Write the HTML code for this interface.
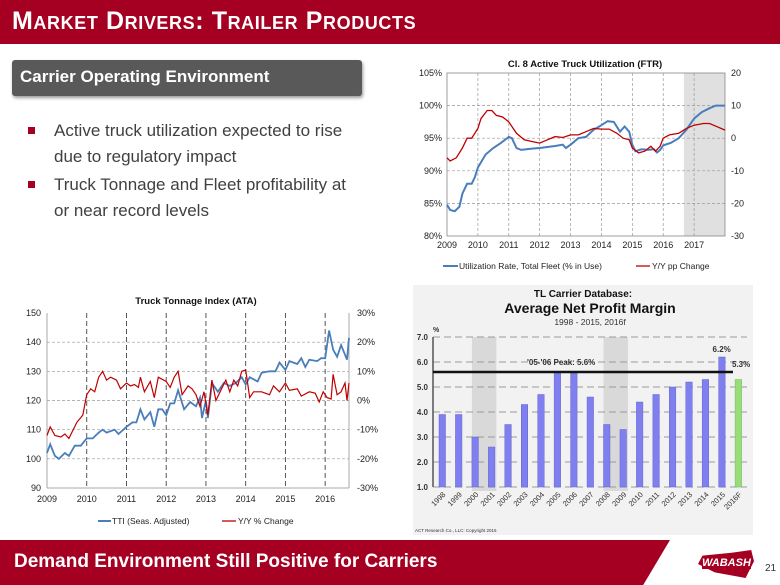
<!DOCTYPE html>
<html><head><meta charset="utf-8"><style>
body{margin:0;width:780px;height:585px;overflow:hidden;background:#fff;font-family:"Liberation Sans",sans-serif;position:relative}
.abs{position:absolute}
#hdr{left:0;top:0;width:780px;height:44px;background:#a50021}
#title{left:12px;top:7px;color:#fff;font-weight:bold;font-size:25px;font-variant:small-caps;letter-spacing:0.6px}
#box{left:12px;top:60px;width:350px;height:36px;background:#595959;border-radius:3px;box-shadow:1px 2px 3px #999}
#box span{position:absolute;left:8px;top:7px;color:#fff;font-weight:bold;font-size:17px}
.bul{left:28px;color:#404040;font-size:17px;line-height:26px}
.bul i{position:absolute;left:0;top:9px;width:7px;height:7px;background:#a50021}
.bul div{margin-left:26px}
#foot{left:0;top:540px;width:670px;height:45px;background:#a50021;clip-path:polygon(0 0,100% 0,96% 100%,0 100%)}
#foot span{position:absolute;left:14px;top:11px;color:#fff;font-weight:bold;font-size:19px}
svg text{font-family:"Liberation Sans",sans-serif}
</style></head><body>
<div id="hdr" class="abs"></div>
<div id="title" class="abs">Market Drivers: Trailer Products</div>
<div id="box" class="abs"><span>Carrier Operating Environment</span></div>
<div class="abs bul" style="top:118px"><i></i><div>Active truck utilization expected to rise<br>due to regulatory impact</div></div>
<div class="abs bul" style="top:172px"><i></i><div>Truck Tonnage and Fleet profitability at<br>or near record levels</div></div>
<div id="foot" class="abs"><span>Demand Environment Still Positive for Carriers</span></div>
<div class="abs" style="left:698px;top:550px;width:56px;height:28px;background:#a50021;clip-path:polygon(8% 20%,60% 10%,95% 0,100% 40%,85% 100%,30% 80%,0 50%)"></div>
<div class="abs" style="left:702px;top:557px;color:#fff;font-weight:bold;font-style:italic;font-size:11px;background:#a50021">WABASH</div>
<div class="abs" style="left:765px;top:563px;font-size:10px;color:#333">21</div>

<svg class="abs" style="left:0;top:0" width="780" height="585" id="sv">
<rect x="413" y="285" width="340" height="250" fill="#f2f2f2"/>
</svg>
<script>
// ---- Chart 1 data
const c1Years=[2009,2010,2011,2012,2013,2014,2015,2016,2017];
const c1LeftTicks=[80,85,90,95,100,105];
const c1RightTicks=[-30,-20,-10,0,10,20];
const utilT=[2009,2009.1,2009.25,2009.4,2009.5,2009.65,2009.8,2009.9,2010,2010.25,2010.5,2010.75,2011,2011.1,2011.25,2011.4,2011.75,2012,2012.5,2012.75,2012.85,2013,2013.25,2013.5,2013.75,2014,2014.2,2014.4,2014.6,2014.75,2014.9,2015,2015.1,2015.3,2015.5,2015.7,2015.8,2015.9,2016,2016.25,2016.5,2016.75,2017,2017.25,2017.5,2017.7,2018];
const utilV=[84.8,84,83.8,84.5,86.5,88,88,89,90.5,92.5,93.5,94.3,95.2,95,93.5,93.2,93.4,93.5,93.8,94,93.5,94,95,95.2,96.3,97,97.6,97.5,96,96.8,96,94,93,93.3,93.2,93.3,92.8,93.2,93.9,94.3,95,96.3,98,99,99.6,100,100];
const yoyT=[2009,2009.1,2009.3,2009.5,2009.65,2009.8,2010,2010.1,2010.3,2010.45,2010.6,2010.8,2011,2011.25,2011.5,2011.75,2012,2012.25,2012.5,2012.75,2013,2013.25,2013.5,2013.75,2014,2014.25,2014.5,2014.7,2014.9,2015,2015.2,2015.4,2015.6,2015.75,2015.9,2016,2016.2,2016.5,2016.75,2017,2017.3,2017.5,2017.75,2018];
const yoyV=[-6,-7,-6,-3,0,0,3,6,8.5,8.5,7,6.5,5,1.5,-0.5,-1,-1.5,-0.5,0.5,0.2,1,1,2,3,2.8,2.8,1.5,0,-0.5,-3,-4.5,-4,-2.5,-4,-2.5,0,1,1.5,3,4,4.5,4.5,3.5,2.5];
// ---- Chart 2 data
const c2Years=[2009,2010,2011,2012,2013,2014,2015,2016];
const c2LeftTicks=[90,100,110,120,130,140,150];
const c2RightTicks=[-30,-20,-10,0,10,20,30];
const ttiT=[2009,2009.08,2009.2,2009.3,2009.45,2009.55,2009.7,2009.85,2010,2010.15,2010.3,2010.4,2010.5,2010.7,2010.8,2011,2011.15,2011.25,2011.35,2011.45,2011.6,2011.7,2011.8,2011.9,2012,2012.1,2012.2,2012.3,2012.45,2012.6,2012.75,2012.85,2012.9,2013,2013.05,2013.15,2013.3,2013.45,2013.6,2013.75,2013.9,2014,2014.1,2014.3,2014.4,2014.6,2014.75,2014.85,2015,2015.1,2015.3,2015.4,2015.5,2015.6,2015.8,2015.9,2016,2016.1,2016.2,2016.3,2016.4,2016.55,2016.6];
const ttiV=[102,105,101,100,102,101,104.5,104.5,107,107,109,110,109,110,108.5,111,112.5,112.5,117,113.5,116,111,117,117,115,119,119,123.5,117,119.5,118,121,114,120,114,126,123,126,125,126,128,125.5,128,126.5,129.5,130,130,133,130.5,133.5,132.5,134.5,131.5,134,133.5,134.5,134.5,144,137.5,135,139,134,141.5];
const pctT=[2009,2009.08,2009.2,2009.35,2009.45,2009.55,2009.75,2009.9,2010,2010.1,2010.2,2010.3,2010.4,2010.5,2010.6,2010.75,2010.85,2011,2011.1,2011.2,2011.3,2011.35,2011.45,2011.6,2011.7,2011.8,2012,2012.1,2012.2,2012.3,2012.4,2012.55,2012.65,2012.75,2012.85,2012.95,2013.05,2013.15,2013.25,2013.5,2013.6,2013.7,2013.8,2013.9,2014,2014.1,2014.2,2014.4,2014.6,2014.7,2014.85,2015,2015.1,2015.3,2015.4,2015.6,2015.75,2015.85,2015.95,2016.05,2016.15,2016.2,2016.3,2016.4,2016.5,2016.55,2016.6];
const pctV=[-12,-9,-12,-12.5,-11.5,-13,-7.5,-5,2,4,3,8,10,7,8,7,4,6,5,5.5,4.5,8,3,6.5,1,8,6.5,4.5,8,10,2,5,4,2,-2,3,-5,7,0,7,3,7,5,10,10.5,1,3,3,2,5,3,6,3.5,4,1.5,3,2.5,-0.5,3,1,0.5,9,2,3,6,0,6];
// ---- Chart 3 data
const c3Cats=["1998","1999","2000","2001","2002","2003","2004","2005","2006","2007","2008","2009","2010","2011","2012","2013","2014","2015","2016F"];
const c3Vals=[3.9,3.9,3.0,2.6,3.5,4.3,4.7,5.6,5.6,4.6,3.5,3.3,4.4,4.7,5.0,5.2,5.3,6.2,5.3];
const c3Ticks=[1,2,3,4,5,6,7];
const c3Peak=[5.6];

const sv=document.getElementById('sv');const NS='http://www.w3.org/2000/svg';
function mk(t,a,txt){const e=document.createElementNS(NS,t);for(const k in a)e.setAttribute(k,a[k]);if(txt!==undefined)e.textContent=txt;sv.appendChild(e);return e;}
function path(T,V,fx,fy){return T.map((t,i)=>(i?'L':'M')+fx(t).toFixed(1)+','+fy(V[i]).toFixed(1)).join('');}

// Chart 1
{const x0=447,x1=725,y0=73,y1=236;
const fx=t=>x0+(t-2009)/(2018-2009)*(x1-x0);
const fyL=v=>y1-(v-80)/25*(y1-y0);const fyR=v=>y1-(v+30)/50*(y1-y0);
let e=mk('rect',{x:fx(2016.67),y:y0,width:x1-fx(2016.67),height:y1-y0,fill:'#e0e0e0'});

c1LeftTicks.forEach((v,i)=>{if(i>0&&i<c1LeftTicks.length-1){e=mk('line',{x1:x0,x2:x1,y1:fyL(v),y2:fyL(v),stroke:'#999','stroke-dasharray':'3,2','stroke-width':0.7});}
e=mk('text',{x:x0-5,y:fyL(v)+3,'font-size':9,'text-anchor':'end',fill:'#222'},v+'%');});
c1RightTicks.forEach(v=>{e=mk('text',{x:x1+6,y:fyR(v)+3,'font-size':9,fill:'#222'},v);});
c1Years.forEach((y,i)=>{if(i>0){e=mk('line',{x1:fx(y),x2:fx(y),y1:y0,y2:y1,stroke:'#999','stroke-dasharray':'3,2','stroke-width':0.7});}
e=mk('text',{x:fx(y),y:y1+12,'font-size':9,'text-anchor':'middle',fill:'#222'},y);});
e=mk('rect',{x:x0,y:y0,width:x1-x0,height:y1-y0,fill:'none',stroke:'#888','stroke-width':0.8});
e=mk('path',{d:path(utilT,utilV,fx,fyL),fill:'none',stroke:'#4a7ebb','stroke-width':2});
e=mk('path',{d:path(yoyT,yoyV,fx,fyR),fill:'none',stroke:'#c00000','stroke-width':1.3});
e=mk('text',{x:585,y:67,'font-size':9.5,'font-weight':'bold','text-anchor':'middle',fill:'#111'},'Cl. 8 Active Truck Utilization (FTR)');
mk('line',{x1:443,x2:458,y1:266,y2:266,stroke:'#4a7ebb','stroke-width':2});
e=mk('text',{x:459,y:269,'font-size':8.5,fill:'#222'},'Utilization Rate, Total Fleet (% in Use)');
mk('line',{x1:636,x2:650,y1:266,y2:266,stroke:'#c00000','stroke-width':1.3});
e=mk('text',{x:652,y:269,'font-size':8.5,fill:'#222'},'Y/Y pp Change');}

// Chart 2
{const x0=47,x1=349,y0=313,y1=488;
const fx=t=>x0+(t-2009)/(2016.6-2009)*(x1-x0);
const fyL=v=>y1-(v-90)/60*(y1-y0);const fyR=v=>y1-(v+30)/60*(y1-y0);
let e;
c2LeftTicks.forEach((v,i)=>{if(i>0&&i<c2LeftTicks.length-1){e=mk('line',{x1:x0,x2:x1,y1:fyL(v),y2:fyL(v),stroke:'#999','stroke-dasharray':'3,2','stroke-width':0.7});}
e=mk('text',{x:x0-6,y:fyL(v)+3,'font-size':9,'text-anchor':'end',fill:'#222'},v);});
c2RightTicks.forEach(v=>{e=mk('text',{x:x1+8,y:fyR(v)+3,'font-size':9,fill:'#222'},v+'%');});
c2Years.forEach((y,i)=>{if(i>0){e=mk('line',{x1:fx(y),x2:fx(y),y1:y0,y2:y1,stroke:'#444','stroke-dasharray':'5,3','stroke-width':0.9});}
e=mk('text',{x:fx(y),y:y1+14,'font-size':9,'text-anchor':'middle',fill:'#222'},y);});
mk('line',{x1:x0,x2:x0,y1:y0,y2:y1,stroke:'#aaa'});mk('line',{x1:x1,x2:x1,y1:y0,y2:y1,stroke:'#aaa'});mk('line',{x1:x0,x2:x1,y1:y1,y2:y1,stroke:'#aaa'});
e=mk('path',{d:path(ttiT,ttiV,fx,fyL),fill:'none',stroke:'#4a7ebb','stroke-width':1.8});
e=mk('path',{d:path(pctT,pctV,fx,fyR),fill:'none',stroke:'#c00000','stroke-width':1.2});
e=mk('text',{x:196,y:304,'font-size':9.5,'font-weight':'bold','text-anchor':'middle',fill:'#111'},'Truck Tonnage Index (ATA)');
mk('line',{x1:98,x2:111,y1:521,y2:521,stroke:'#4a7ebb','stroke-width':2});
e=mk('text',{x:112,y:524,'font-size':8.5,fill:'#222'},'TTI (Seas. Adjusted)');
mk('line',{x1:222,x2:236,y1:521,y2:521,stroke:'#c00000','stroke-width':1.3});
e=mk('text',{x:238,y:524,'font-size':8.5,fill:'#222'},'Y/Y % Change');}

// Chart 3
{const ax=433,x1=747,yb=487,yt=337;
const fy=v=>yb-(v-1)/6*(yb-yt);const step=16.45;const bx=i=>442+i*step;
let e;
[[2,3],[10,11]].forEach(p=>{e=mk('rect',{x:bx(p[0])-3,y:yt,width:bx(p[1])-bx(p[0])+8,height:yb-yt+4,fill:'#d9d9d9'});});
c3Ticks.forEach(v=>{e=mk('line',{x1:ax,x2:x1,y1:fy(v),y2:fy(v),stroke:'#999','stroke-dasharray':'7,4','stroke-width':1});
e=mk('text',{x:ax-5,y:fy(v)+3,'font-size':8,'font-weight':'bold','text-anchor':'end',fill:'#333'},v.toFixed(1));});
mk('line',{x1:ax,x2:ax,y1:yt,y2:yb,stroke:'#555','stroke-width':1.5});
c3Cats.forEach((c,i)=>{const last=i===c3Cats.length-1;
e=mk('rect',{x:bx(i)-3,y:fy(c3Vals[i]),width:6.5,height:yb-fy(c3Vals[i]),fill:last?'#99dd77':'#7f7ff0',stroke:last?'#6b6':'#66c','stroke-width':0.5});
e=mk('text',{x:0,y:0,'font-size':7.5,'text-anchor':'end',fill:'#333',transform:`translate(${bx(i)+4},${yb+8}) rotate(-45)`},c);});
e=mk('line',{x1:ax,x2:733,y1:fy(c3Peak[0]),y2:fy(c3Peak[0]),stroke:'#111','stroke-width':2.5});
e=mk('text',{x:527,y:365,'font-size':8,'font-weight':'bold',fill:'#333'},"'05-'06 Peak: 5.6%");
e=mk('text',{x:bx(17),y:fy(c3Vals[17])-5,'font-size':8,'font-weight':'bold','text-anchor':'middle',fill:'#333'},'6.2%');
e=mk('text',{x:732,y:367,'font-size':8,'font-weight':'bold',fill:'#333'},'5.3%');
e=mk('text',{x:433,y:332,'font-size':7,'font-weight':'bold',fill:'#333'},'%');
e=mk('text',{x:583,y:297,'font-size':10,'font-weight':'bold','text-anchor':'middle',fill:'#111'},'TL Carrier Database:');
e=mk('text',{x:590,y:313,'font-size':14,'font-weight':'bold','text-anchor':'middle',fill:'#111'},'Average Net Profit Margin');
e=mk('text',{x:590,y:325,'font-size':8.5,'text-anchor':'middle',fill:'#333'},'1998 - 2015, 2016f');
e=mk('text',{x:415,y:532,'font-size':4.5,fill:'#333'},'ACT Research Co., LLC: Copyright 2016');}
</script>
</body></html>
